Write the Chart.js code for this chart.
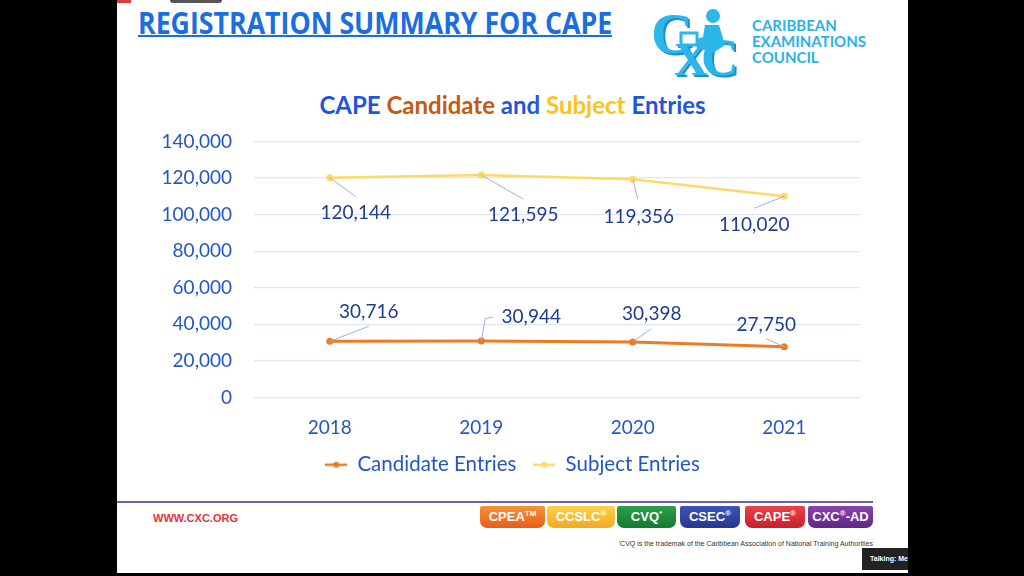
<!DOCTYPE html>
<html>
<head>
<meta charset="utf-8">
<script src="https://cdn.jsdelivr.net/npm/chart.js@4.4.0/dist/chart.umd.min.js"></script>
<style>
  html, body { margin: 0; padding: 0; background: #000; }
  #slide { position: absolute; left: 117px; top: 0; width: 791px; height: 573px; background: #fff; overflow: hidden; }
  .abs { position: absolute; }
  #mainTitle { left: 21px; top: 2px; font: bold 30px "Open Sans", Lato, sans-serif; color: #1a6ee0; white-space: nowrap; transform-origin: 0 0; }
  #titleLine { left: 21px; top: 35px; width: 474px; height: 2px; background: #1a6ee0; }
  #chartTitle { left: 0; width: 791px; top: 90px; text-align: center; font: bold 24px Lato, sans-serif; white-space: nowrap; }
  #logoText { left: 635px; top: 17px; font: bold 15px Lato, sans-serif; color: #29b3e8; line-height: 16px; }
  #chartBox { left: 0; top: 108px; width: 791px; height: 377px; }
  #footLine { left: 0; top: 501px; width: 756px; height: 2px; background: #6b5fb8; }
  #www { left: 36px; top: 512px; font: bold 11px "Liberation Sans", sans-serif; color: #e2333a; }
  .badge { position: absolute; top: 506px; height: 22px; border-radius: 2px 2px 7px 7px; color: #fff; font: bold 13px "Liberation Sans Narrow", "Liberation Sans", sans-serif; text-align: center; line-height: 22px; }
  .badge sup { font-size: 8px; line-height: 0; }
  #note { right: 35px; top: 540px; font: 7px "Liberation Sans Narrow", "Liberation Sans", sans-serif; color: #333; white-space: nowrap; }
  #talk { left: 745px; top: 548px; width: 46px; height: 22px; background: #222; color: #fff; font: bold 7px "Liberation Sans", sans-serif; line-height: 22px; padding-left: 8px; box-sizing: border-box; }
</style>
</head>
<body>
<div id="slide">
  <div class="abs" style="left:0;top:0;width:14px;height:3px;background:#e03a3a;"></div>
  <div class="abs" style="left:53px;top:0;width:52px;height:3px;background:#555;border-radius:0 0 3px 3px;"></div>
  <div id="mainTitle" class="abs">REGISTRATION SUMMARY FOR CAPE</div>
  <div id="titleLine" class="abs"></div>

  <svg class="abs" style="left:534px;top:5px;" width="100" height="75" viewBox="0 0 100 75">
    <text x="2" y="50" font-family="Liberation Serif, serif" font-weight="bold" font-size="58" fill="#1a8fcf">C</text>
    <text x="0" y="48" font-family="Liberation Serif, serif" font-weight="bold" font-size="58" fill="#2bb7ea">C</text>
    <text x="25" y="72" font-family="Liberation Serif, serif" font-weight="bold" font-size="46" fill="#1a8fcf">X</text>
    <text x="23" y="70" font-family="Liberation Serif, serif" font-weight="bold" font-size="46" fill="#2bb7ea">X</text>
    <text x="52" y="72" font-family="Liberation Serif, serif" font-weight="bold" font-size="52" fill="#1a8fcf">C</text>
    <text x="50" y="70" font-family="Liberation Serif, serif" font-weight="bold" font-size="52" fill="#2bb7ea">C</text>
    <circle cx="62" cy="11" r="7" fill="#2bb7ea"/>
    <path d="M54 20 L68 20 L74 40 L62 48 L50 44 L40 36 L52 32 Z" fill="#2bb7ea"/>
    <rect x="30" y="28" width="16" height="12" fill="#fff" stroke="#2bb7ea" stroke-width="3"/>
  </svg>
  <div id="logoText" class="abs">CARIBBEAN<br>EXAMINATIONS<br>COUNCIL</div>

  <div id="chartTitle" class="abs"><span style="color:#1f56d8">CAPE </span><span style="color:#c55a11">Candidate </span><span style="color:#1f56d8">and </span><span style="color:#ffc21a">Subject </span><span style="color:#1f56d8">Entries</span></div>

  <div id="chartBox" class="abs"><canvas id="myChart"></canvas></div>

  <div id="footLine" class="abs"></div>
  <div id="www" class="abs">WWW.CXC.ORG</div>
  <div class="badge" style="left:363px;width:65px;background:linear-gradient(#f7923a,#e85d1a);">CPEA<sup>TM</sup></div>
  <div class="badge" style="left:430px;width:68px;background:linear-gradient(#fcd24a,#f2a922);">CCSLC<sup>®</sup></div>
  <div class="badge" style="left:500px;width:59px;background:linear-gradient(#2aa04a,#137a30);">CVQ<sup>*</sup></div>
  <div class="badge" style="left:563px;width:60px;background:linear-gradient(#3d55b8,#253791);">CSEC<sup>®</sup></div>
  <div class="badge" style="left:628px;width:60px;background:linear-gradient(#e8434b,#c8202b);">CAPE<sup>®</sup></div>
  <div class="badge" style="left:691px;width:65px;background:linear-gradient(#8a44ad,#5f2685);">CXC<sup>®</sup>-AD</div>
  <div id="note" class="abs">'CVQ is the trademak of the Caribbean Association of National Training Authorities</div>
  <div id="talk" class="abs">Talking: Me</div>
</div>

<script>
// fit main title to its underline width
var mt = document.getElementById('mainTitle');
mt.style.transform = 'scaleX(' + (474 / mt.offsetWidth) + ')';

var anios = ['2018', '2019', '2020', '2021'];
var candidatos = [30716, 30944, 30398, 27750];
var materias = [120144, 121595, 119356, 110020];
var ticksY = [0, 20000, 40000, 60000, 80000, 100000, 120000, 140000];

// label placement relative to each point (px): label offset + leader line points
var etiquetasCand = [
  { dx: 39, dy: -29, linea: [[39, -15]] },
  { dx: 50, dy: -24, linea: [[4, -22], [12, -24]] },
  { dx: 19, dy: -28, linea: [[18, -13]] },
  { dx: -18, dy: -22, linea: [[-18, -8]] }
];
var etiquetasMat = [
  { dx: 26, dy: 35, linea: [[26, 19]] },
  { dx: 42, dy: 40, linea: [[42, 24]] },
  { dx: 6, dy: 38, linea: [[5, 20]] },
  { dx: -30, dy: 29, linea: [[-30, 12]] }
];

function formato(v) { return v.toLocaleString('en-US'); }

function marcador(color) {
  var c = document.createElement('canvas');
  c.width = 22; c.height = 10;
  var g = c.getContext('2d');
  g.strokeStyle = color; g.lineWidth = 2.5;
  g.beginPath(); g.moveTo(0, 5); g.lineTo(22, 5); g.stroke();
  g.fillStyle = color;
  g.beginPath(); g.arc(11, 5, 3, 0, Math.PI * 2); g.fill();
  return c;
}
var marcadores = [marcador('#f07a22'), marcador('#ffd966')];

var pluginEtiquetas = {
  id: 'etiquetas',
  afterLayout: function (chart) {
    // center the legend on the whole canvas, not on the padded area
    chart.legend.left = 0;
    chart.legend.right = chart.width;
  },
  afterDatasetsDraw: function (chart) {
    var ctx = chart.ctx;
    var sets = [etiquetasCand, etiquetasMat];
    ctx.save();
    ctx.font = '19px Lato, sans-serif';
    ctx.textAlign = 'center';
    ctx.textBaseline = 'middle';
    chart.data.datasets.forEach(function (ds, d) {
      var meta = chart.getDatasetMeta(d);
      meta.data.forEach(function (p, i) {
        var e = sets[d][i];
        ctx.strokeStyle = '#9bb2dc';
        ctx.lineWidth = 1;
        ctx.beginPath();
        ctx.moveTo(p.x, p.y);
        e.linea.forEach(function (q) { ctx.lineTo(p.x + q[0], p.y + q[1]); });
        ctx.stroke();
        ctx.fillStyle = '#1f3c8f';
        ctx.fillText(formato(ds.data[i]), p.x + e.dx, p.y + e.dy);
      });
    });
    ctx.restore();
  }
};

const ctx = document.getElementById('myChart');
new Chart(ctx, {
  type: 'line',
  data: {
    labels: anios,
    datasets: [{
      label: 'Candidate Entries',
      data: candidatos,
      borderColor: '#f07a22',
      backgroundColor: '#f07a22',
      borderWidth: 3,
      pointRadius: 3.5,
      pointBackgroundColor: '#f07a22',
      pointBorderWidth: 0
    }, {
      label: 'Subject Entries',
      data: materias,
      borderColor: '#ffd966',
      backgroundColor: '#ffd966',
      borderWidth: 2.5,
      pointRadius: 3.5,
      pointBackgroundColor: '#ffd966',
      pointBorderWidth: 0
    }]
  },
  options: {
    responsive: true,
    maintainAspectRatio: false,
    animation: false,
    layout: { padding: { top: 0, right: 48, bottom: 0, left: 0 } },
    scales: {
      x: {
        offset: true,
        afterFit: function (s) { s.height = 40; },
        grid: { display: false, drawTicks: false },
        border: { display: false },
        ticks: { color: '#2457c5', font: { family: 'Lato', size: 19 }, padding: 19 }
      },
      y: {
        min: 0,
        max: 140000,
        afterFit: function (s) { s.width = 137; },
        afterBuildTicks: function (s) { s.ticks = ticksY.map(function (v) { return { value: v }; }); },
        grid: { color: '#dfe7f3', lineWidth: 1.2, drawTicks: false },
        border: { display: false },
        ticks: {
          color: '#2457c5',
          font: { family: 'Lato', size: 19 },
          padding: 22,
          callback: function (v) { return formato(v); }
        }
      }
    },
    plugins: {
      legend: {
        position: 'bottom',
        labels: {
          usePointStyle: true,
          pointStyleWidth: 22,
          color: '#2457c5',
          font: { family: 'Lato', size: 20.5 },
          padding: 17,
          generateLabels: function (chart) {
            var items = Chart.defaults.plugins.legend.labels.generateLabels(chart);
            items.forEach(function (it, i) { it.pointStyle = marcadores[i]; });
            return items;
          }
        }
      },
      tooltip: { enabled: false }
    }
  },
  plugins: [pluginEtiquetas]
});
</script>
</body>
</html>
